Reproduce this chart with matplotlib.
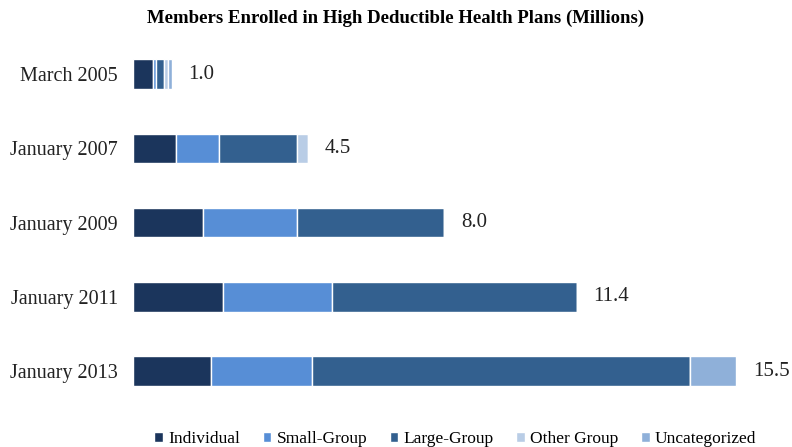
import numpy as np
import matplotlib.pyplot as plt

plt.rcParams['font.family'] = ['Liberation Serif', 'DejaVu Serif']

periods = ['March 2005', 'January 2007', 'January 2009', 'January 2011', 'January 2013']
totals = [1.0, 4.5, 8.0, 11.4, 15.5]
segments = ['Individual', 'Small-Group', 'Large-Group', 'Other Group', 'Uncategorized']
individual = [0.5, 1.1, 1.8, 2.3, 2.0]
small_group = [0.1, 1.1, 2.4, 2.8, 2.6]
large_group = [0.2, 2.0, 3.8, 6.3, 9.7]
other_group = [0.1, 0.3, 0.0, 0.0, 0.0]
uncategorized = [0.1, 0.0, 0.0, 0.0, 1.2]
colors = ['#1b355c', '#578ed6', '#33608f', '#b9cde6', '#8fb0d9']

fig = plt.figure(figsize=(7.92, 4.47), dpi=100)
ax = fig.add_axes([0.168, 0.087, 0.8207, 0.830])

y = np.arange(len(periods))
left = np.zeros(len(periods))
for name, vals, c in zip(segments, [individual, small_group, large_group, other_group, uncategorized], colors):
    vals = np.array(vals)
    ax.barh(y, vals, left=left, height=0.4, color=c, edgecolor='white', linewidth=1, label=name)
    left += vals

for yi, t in zip(y, totals):
    ax.text(t + 0.42, yi, f'{t:.1f}', va='center', ha='left', fontsize=15, color='#222222')

ax.set_yticks(y)
ax.set_yticklabels(periods, fontsize=14.5, color='#222222')
ax.tick_params(axis='y', length=0, pad=11)
ax.set_xticks([])
ax.set_xlim(0, 16.7)
ax.set_ylim(4.5, -0.5)
for s in ax.spines.values():
    s.set_visible(False)

fig.suptitle('Members Enrolled in High Deductible Health Plans (Millions)', y=0.978,
             fontsize=13.5, fontweight='bold', x=0.5)

fig.legend(loc='lower center', bbox_to_anchor=(0.575, -0.035), ncol=5, frameon=False,
           fontsize=12.5, handlelength=0.5, handleheight=0.5, handletextpad=0.3,
           columnspacing=1.3)

fig.savefig('out.png', dpi=100)
